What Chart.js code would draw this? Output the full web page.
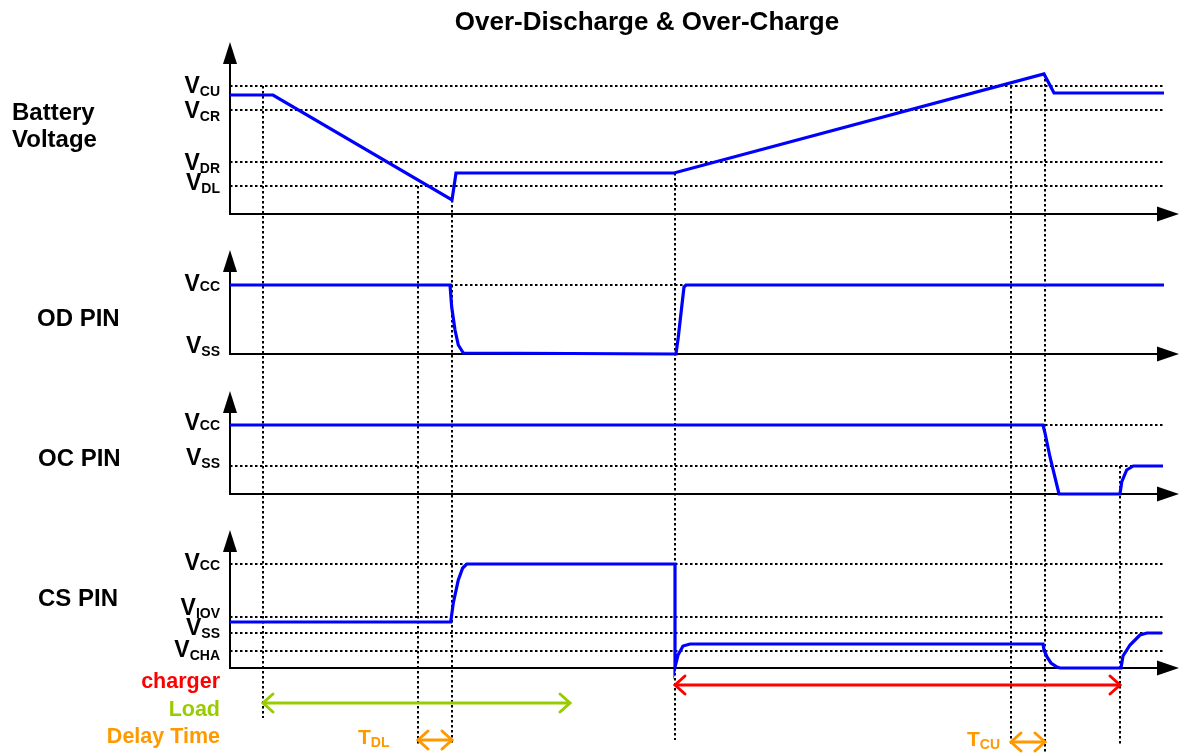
<!DOCTYPE html>
<html>
<head>
<meta charset="utf-8">
<title>Over-Discharge &amp; Over-Charge</title>
<script src="https://cdn.jsdelivr.net/npm/chart.js@4.4.1/dist/chart.umd.min.js"></script>
<style>
  html, body { margin: 0; padding: 0; background: #fff; }
  #wrap { width: 1185px; height: 756px; position: relative; }
</style>
</head>
<body>
<div id="wrap"><canvas id="timing"></canvas></div>
<script>
// time runs 0..950 (arbitrary units), each panel's level is measured up from its own axis

// --- Battery voltage ---
const batteryT = [0, 43, 222, 226, 444, 814, 824, 934];
const batteryV = [119, 119, 14, 41, 41, 140, 121, 121];
const batteryLevels = [128, 104, 52, 28];
const batteryLevelNames = ["CU", "CR", "DR", "DL"];

// --- OD pin ---
const odT = [0, 220, 221.7, 225, 228.3, 233.3, 446, 448.3, 451.7, 454, 456, 934];
const odV = [69, 69, 47, 24, 9, 1, 0, 17, 47, 67, 69, 69];
const odLevels = [69, 0];
const odLevelNames = ["CC", "SS"];

// --- OC pin ---
const ocT = [0, 813, 815, 820, 829, 890, 891.7, 896.7, 903.3, 933];
const ocV = [69, 69, 61, 37, 0, 0, 12, 24, 28, 28];
const ocLevels = [69, 28];
const ocLevelNames = ["CC", "SS"];

// --- CS pin ---
const csT = [0, 220.7, 223.3, 228.3, 232.7, 236.7, 445, 445, 448, 453, 460,
             813, 814, 817, 821, 827, 830, 891, 893, 900, 910, 917, 932];
const csV = [46, 46, 65, 88, 100, 104, 104, 1, 13, 22, 24,
             24, 18, 11, 5, 1, 0, 0, 12, 23, 33, 35, 35];
const csLevels = [104, 51, 35, 17];
const csLevelNames = ["CC", "IOV", "SS", "CHA"];

// dotted time markers: time, panel + level where they start, end level on CS scale
const markerT = [33, 188, 222, 445, 781, 815, 890];
const markerTopPanel = [0, 0, 0, 0, 0, 0, 2];
const markerTopV = [128, 28, 14, 41, 128, 140, 28];
const markerBottomV = [-50, -77, -77, -72, -77, -84, -77];

// double arrows under the CS pin (CS scale)
const spanNames = ["charger", "Load", "TDL", "TCU"];
const spanStart = [445, 33, 188, 781];
const spanEnd = [890, 340, 222, 815];
const spanLevel = [-17, -35, -72, -74];

// left hand legend words
const legendNames = ["charger", "Load", "Delay Time"];
const legendLevel = [-20, -48, -75];

// delay time labels
const delayNames = ["DL", "CU"];
const delayT = [128, 737];
const delayLevel = [-76, -78];

// --- layout / style ---
const FONT = '"Liberation Sans", Arial, sans-serif';
const PLOT_TOP = 40, PLOT_BOTTOM = 756;
const PANEL_AXIS_PX = [214, 354, 494, 668];
const DOTS = [2.5, 2.5];
const spanColors = ["#ff0000", "#99cc00", "#ff9900", "#ff9900"];
const legendColors = ["#ff0000", "#99cc00", "#ff9900"];
const labelDy = [[7, 8, 8, 4], [6, -1], [5, -1], [6, -2, 2, 6]];

const panels = [
  { t: batteryT, v: batteryV, levels: batteryLevels, names: batteryLevelNames,
    title: ["Battery", "Voltage"], titleV: [94, 67], titleX: 12, top: 172 },
  { t: odT, v: odV, levels: odLevels, names: odLevelNames,
    title: ["OD PIN"], titleV: [28], titleX: 37, top: 104 },
  { t: ocT, v: ocV, levels: ocLevels, names: ocLevelNames,
    title: ["OC PIN"], titleV: [28], titleX: 38, top: 103 },
  { t: csT, v: csV, levels: csLevels, names: csLevelNames,
    title: ["CS PIN"], titleV: [62], titleX: 38, top: 138 }
];

const datasets = [];
panels.forEach((p, i) => {
  datasets.push({
    data: p.t.map((t, j) => ({ x: t, y: p.v[j] })),
    yAxisID: "y" + (i + 1),
    borderColor: "#0000ff", borderWidth: 3.2, pointRadius: 0, tension: 0,
    clip: false, order: 0
  });
});
const spanStartIndex = datasets.length;
spanNames.forEach((n, i) => {
  datasets.push({
    data: [{ x: spanStart[i], y: spanLevel[i] }, { x: spanEnd[i], y: spanLevel[i] }],
    yAxisID: "y4",
    borderColor: spanColors[i], borderWidth: 3, pointRadius: 0,
    clip: false, order: 1
  });
});
panels.forEach((p, i) => {
  p.levels.forEach(lv => {
    datasets.push({
      data: [{ x: 0, y: lv }, { x: 934, y: lv }],
      yAxisID: "y" + (i + 1),
      borderColor: "#000", borderWidth: 2, borderDash: DOTS, pointRadius: 0,
      clip: false, order: 2
    });
  });
});

const yScales = {};
PANEL_AXIS_PX.forEach((a, i) => {
  yScales["y" + (i + 1)] = {
    type: "linear", display: false,
    min: a - PLOT_BOTTOM, max: a - PLOT_TOP
  };
});

function ys(chart, i) { return chart.scales["y" + (i + 1)]; }

const diagramPlugin = {
  id: "diagram",
  beforeDatasetsDraw(chart) {
    const ctx = chart.ctx;
    const x = chart.scales.x;
    ctx.save();

    // vertical dotted markers
    ctx.strokeStyle = "#000";
    ctx.lineWidth = 2;
    ctx.setLineDash(DOTS);
    markerT.forEach((t, i) => {
      const px = Math.round(x.getPixelForValue(t));
      ctx.beginPath();
      ctx.moveTo(px, ys(chart, markerTopPanel[i]).getPixelForValue(markerTopV[i]));
      ctx.lineTo(px, chart.scales.y4.getPixelForValue(markerBottomV[i]));
      ctx.stroke();
    });
    ctx.setLineDash([]);

    // axes with arrow heads
    panels.forEach((p, i) => {
      const s = ys(chart, i);
      const x0 = x.getPixelForValue(0);
      const y0 = s.getPixelForValue(0);
      const yTop = s.getPixelForValue(p.top);
      const xEnd = x.getPixelForValue(949);
      ctx.strokeStyle = "#000";
      ctx.lineWidth = 2;
      ctx.beginPath();
      ctx.moveTo(x0, y0);
      ctx.lineTo(x0, yTop + 15);
      ctx.moveTo(x0 - 1, y0);
      ctx.lineTo(xEnd - 15, y0);
      ctx.stroke();
      ctx.fillStyle = "#000";
      ctx.beginPath();
      ctx.moveTo(x0, yTop);
      ctx.lineTo(x0 - 7, yTop + 22);
      ctx.lineTo(x0 + 7, yTop + 22);
      ctx.closePath();
      ctx.fill();
      ctx.beginPath();
      ctx.moveTo(xEnd, y0);
      ctx.lineTo(xEnd - 22, y0 - 7.5);
      ctx.lineTo(xEnd - 22, y0 + 7.5);
      ctx.closePath();
      ctx.fill();
    });
    ctx.restore();
  },
  afterDatasetsDraw(chart) {
    const ctx = chart.ctx;
    const x = chart.scales.x;
    ctx.save();

    // arrow heads on the span lines
    spanNames.forEach((n, i) => {
      const pts = chart.getDatasetMeta(spanStartIndex + i).data;
      const a = pts[0], b = pts[1];
      ctx.strokeStyle = spanColors[i];
      ctx.lineWidth = 3;
      ctx.lineCap = "round";
      ctx.beginPath();
      ctx.moveTo(a.x + 10, a.y - 9); ctx.lineTo(a.x, a.y); ctx.lineTo(a.x + 10, a.y + 9);
      ctx.moveTo(b.x - 10, b.y - 9); ctx.lineTo(b.x, b.y); ctx.lineTo(b.x - 10, b.y + 9);
      ctx.stroke();
    });

    // title
    ctx.fillStyle = "#000";
    ctx.textBaseline = "alphabetic";
    ctx.textAlign = "center";
    ctx.font = "bold 26px " + FONT;
    ctx.fillText("Over-Discharge & Over-Charge", 647, 30);

    // panel names
    ctx.textAlign = "left";
    ctx.font = "bold 24px " + FONT;
    panels.forEach((p, i) => {
      p.title.forEach((line, k) => {
        ctx.fillText(line, p.titleX, ys(chart, i).getPixelForValue(p.titleV[k]));
      });
    });

    // level labels V<sub>
    panels.forEach((p, i) => {
      p.levels.forEach((lv, j) => {
        const y = ys(chart, i).getPixelForValue(lv) + labelDy[i][j];
        const sub = p.names[j];
        ctx.font = "bold 14px " + FONT;
        const subW = ctx.measureText(sub).width;
        ctx.font = "bold 23px " + FONT;
        const vW = ctx.measureText("V").width;
        const right = 220;
        ctx.fillText("V", right - subW - vW, y);
        ctx.font = "bold 14px " + FONT;
        ctx.fillText(sub, right - subW, y + (sub === "CC" ? 0 : 3));
      });
    });

    // legend words
    ctx.textAlign = "right";
    ctx.font = "bold 21.5px " + FONT;
    legendNames.forEach((n, i) => {
      ctx.fillStyle = legendColors[i];
      ctx.fillText(n, 220, chart.scales.y4.getPixelForValue(legendLevel[i]));
    });

    // delay time labels T<sub>
    ctx.textAlign = "left";
    ctx.fillStyle = "#ff9900";
    delayNames.forEach((n, i) => {
      const px = x.getPixelForValue(delayT[i]);
      const py = chart.scales.y4.getPixelForValue(delayLevel[i]);
      ctx.font = "bold 21px " + FONT;
      const tW = ctx.measureText("T").width;
      ctx.fillText("T", px, py);
      ctx.font = "bold 14px " + FONT;
      ctx.fillText(n, px + tW, py + 3);
    });
    ctx.restore();
  }
};

new Chart(document.getElementById("timing"), {
  type: "line",
  data: { datasets: datasets },
  options: {
    responsive: true,
    maintainAspectRatio: false,
    animation: false,
    layout: { padding: { left: 230, right: 5, top: PLOT_TOP, bottom: 0 } },
    plugins: {
      legend: { display: false },
      tooltip: { enabled: false },
      title: { display: false }
    },
    scales: Object.assign({
      x: { type: "linear", display: false, min: 0, max: 950 }
    }, yScales)
  },
  plugins: [diagramPlugin]
});
</script>
</body>
</html>
